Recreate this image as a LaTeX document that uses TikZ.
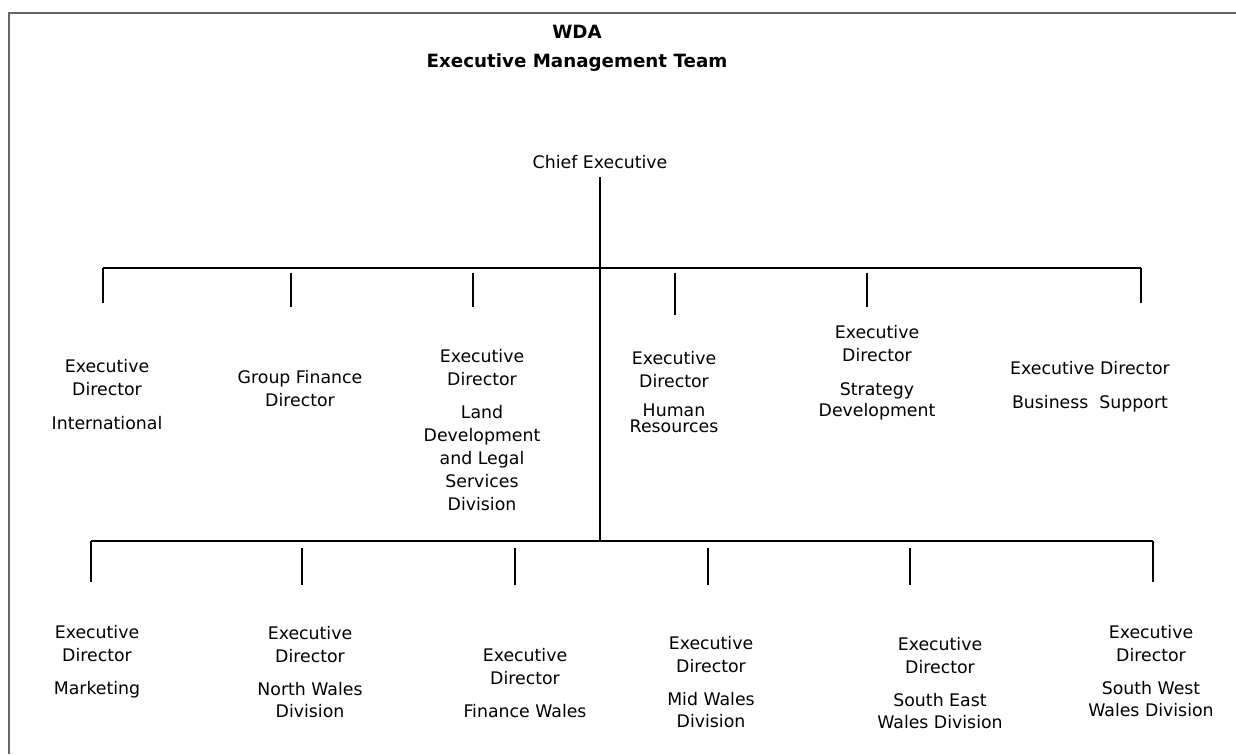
\documentclass[tikz,border=0pt]{standalone}
\usepackage{fontspec}
\setmainfont{DejaVu Sans}
\tikzset{every picture/.style={line width=1pt}}
\tikzset{
  post/.style={anchor=north,inner sep=0pt,align=center,font=\fontsize{13}{17.25}\selectfont},
  headline/.style={anchor=north,inner sep=0pt,align=center,font=\fontsize{13.7}{21.75}\selectfont\bfseries},
  frameline/.style={draw=black!60,line width=1.2pt},
}
\begin{document}
\begin{tikzpicture}[x=0.75pt,y=0.75pt,yscale=-1,xscale=1]
\path[use as bounding box] (0,0) rectangle (1236,754); %set diagram to the page size

%Shape: Frame
\coordinate (fbl) at (9,754);
\coordinate (ftl) at (9,13);
\coordinate (ftr) at (1236,13);
\draw[frameline] (fbl) -- (ftl) -- (ftr);

% Text Node
\draw (577,25) node [headline] (title) {WDA\\Executive Management Team};
% Text Node
\draw (600,155) node [post] (ceo) {Chief Executive};

%Shape: Trunk
\coordinate (trunk-top) at (600,177);
\coordinate (trunk-end) at (600,541);
\draw (trunk-top) -- (trunk-end);

%Shape: Top bar and drops
\foreach \n/\x/\a/\b in {intl/103/268/303, gfd/291/273/307, land/473/273/307, hr/675/273/315, strat/867/273/307, bus/1141/268/303}{
  \coordinate (\n-top) at (\x,\a);
  \coordinate (\n-end) at (\x,\b);
  \draw (\n-top) -- (\n-end);
}
\draw (intl-top) -- (bus-top);

%Shape: Bottom bar and drops
\foreach \n/\x/\a/\b in {mkt/91/541/582, nw/302/548/585, fw/515/548/585, mid/708/548/585, se/910/548/585, sw/1153/541/582}{
  \coordinate (\n-top) at (\x,\a);
  \coordinate (\n-end) at (\x,\b);
  \draw (\n-top) -- (\n-end);
}
\draw (mkt-top) -- (sw-top);

% Text Node
\draw (107,359) node [post] (intl) {Executive\\Director\\[8.25pt]International};
% Text Node
\draw (300,370) node [post] (gfd) {Group Finance\\Director};
% Text Node
\draw (482,349) node [post] (land) {Executive\\Director\\[7.5pt]Land\\Development\\and Legal\\Services\\Division};
% Text Node
\draw (674,351) node [post] (hr) {Executive\\Director\\[4.5pt]Human\\[-5.25pt]Resources};
% Text Node
\draw (877,325) node [post] (strat) {Executive\\Director\\[8.25pt]Strategy\\[-1.5pt]Development};
% Text Node
\draw (1090,361) node [post] (bus) {Executive Director\\[8.25pt]Business\ \ Support};

% Text Node
\draw (97,625) node [post] (mkt) {Executive\\Director\\[7.5pt]Marketing};
% Text Node
\draw (310,626) node [post] (nw) {Executive\\Director\\[7.5pt]North Wales\\[-0.75pt]Division};
% Text Node
\draw (525,648) node [post] (fw) {Executive\\Director\\[7.5pt]Finance Wales};
% Text Node
\draw (711,636) node [post] (mid) {Executive\\Director\\[7.5pt]Mid Wales\\[-0.75pt]Division};
% Text Node
\draw (940,637) node [post] (se) {Executive\\Director\\[7.5pt]South East\\[-0.75pt]Wales Division};
% Text Node
\draw (1151,625) node [post] (sw) {Executive\\Director\\[7.5pt]South West\\[-0.75pt]Wales Division};
\end{tikzpicture}
\end{document}
